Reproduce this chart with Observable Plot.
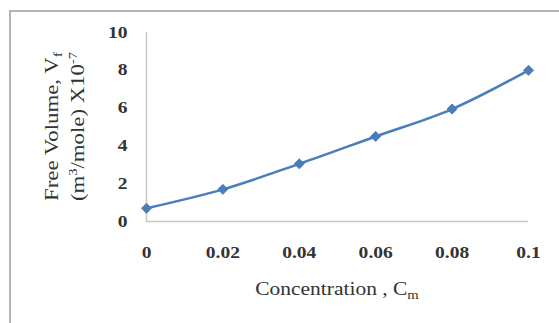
<!DOCTYPE html>
<html>
<head>
<meta charset="utf-8">
<script src="https://cdn.jsdelivr.net/npm/d3@7"></script>
<script src="https://cdn.jsdelivr.net/npm/@observablehq/plot@0.6"></script>
<style>
  html, body { margin: 0; padding: 0; background: #fff; }
  #wrap { position: relative; width: 559px; height: 323px; overflow: hidden; }
  #border { position: absolute; left: 9px; top: 10px; width: 600px; height: 400px;
            border-left: 2px solid #b4b4b4; border-top: 2px solid #b4b4b4; }
  #wrap svg { position: absolute; left: 0; top: 0; }
</style>
</head>
<body>
<div id="wrap"><div id="border"></div></div>
<script>
const concentration = [0, 0.02, 0.04, 0.06, 0.08, 0.1];
const freeVolume = [0.7, 1.7, 3.05, 4.5, 5.95, 8.0];
const xTicks = [0, 0.02, 0.04, 0.06, 0.08, 0.1];
const yTicks = [0, 2, 4, 6, 8, 10];

const data = concentration.map((c, i) => ({c, v: freeVolume[i]}));
const blue = "#4a7ebb";

const chart = Plot.plot({
  width: 559,
  height: 323,
  marginLeft: 146,
  marginRight: 31,
  marginTop: 32,
  marginBottom: 102,
  style: {fontFamily: "Liberation Serif", fontSize: "16px", fontWeight: "bold", color: "#333", background: "transparent", overflow: "visible"},
  x: {domain: [0, 0.1], ticks: xTicks, tickFormat: d => String(d), tickSize: 0, tickPadding: 25, label: null},
  y: {domain: [0, 10], ticks: yTicks, tickSize: 0, tickPadding: 19, label: null},
  marks: [
    Plot.ruleX([0], {stroke: "#c8c8c8", strokeWidth: 1.5}),
    Plot.ruleY([0], {stroke: "#c8c8c8", strokeWidth: 1.5}),
    Plot.line(data, {x: "c", y: "v", stroke: blue, strokeWidth: 2.5, curve: "monotone-x"}),
    Plot.dot(data, {x: "c", y: "v", symbol: "diamond2", r: 4.5, fill: blue, stroke: blue, strokeWidth: 1})
  ]
});

document.getElementById("wrap").appendChild(chart);
const svg = d3.select(chart);

// stretch tick labels horizontally to match the reference's wide glyphs
svg.selectAll("text").each(function() {
  const w = this.getComputedTextLength();
  if (w > 0) { this.setAttribute("textLength", w * 1.22); this.setAttribute("lengthAdjust", "spacingAndGlyphs"); }
});

const xs = chart.scale("x"), ys = chart.scale("y");
const xMid = (xs.apply(0) + xs.apply(0.1)) / 2;
const yMid = (ys.apply(0) + ys.apply(10)) / 2;

// x-axis title
const xt = svg.append("text")
  .attr("x", xMid).attr("y", ys.apply(0) + 74)
  .attr("text-anchor", "middle")
  .attr("font-family", "Liberation Serif").attr("font-size", 19).attr("font-weight", "normal")
  .attr("fill", "#333");
xt.append("tspan").text("Concentration , C");
xt.append("tspan").attr("font-size", 13).attr("dy", 4).text("m");

// y-axis title, two lines, rotated
const yt1 = svg.append("text")
  .attr("transform", `translate(${xs.apply(0) - 88},${yMid}) rotate(-90)`)
  .attr("text-anchor", "middle")
  .attr("font-family", "Liberation Serif").attr("font-size", 19).attr("font-weight", "normal")
  .attr("fill", "#333");
yt1.append("tspan").text("Free Volume, V");
yt1.append("tspan").attr("font-size", 13).attr("dy", 4).text("f");

const yt2 = svg.append("text")
  .attr("transform", `translate(${xs.apply(0) - 62},${yMid}) rotate(-90)`)
  .attr("text-anchor", "middle")
  .attr("font-family", "Liberation Serif").attr("font-size", 19).attr("font-weight", "normal")
  .attr("fill", "#333");
yt2.append("tspan").text("(m");
yt2.append("tspan").attr("font-size", 12).attr("dy", -7).text("3");
yt2.append("tspan").attr("dy", 7).text("/mole) X10");
yt2.append("tspan").attr("font-size", 12).attr("dy", -7).text("-7");

[[xt, 1.13], [yt1, 1.2], [yt2, 1.2]].forEach(([t, k]) => {
  const n = t.node();
  const w = n.getComputedTextLength();
  n.setAttribute("textLength", w * k);
  n.setAttribute("lengthAdjust", "spacingAndGlyphs");
});
</script>
</body>
</html>
